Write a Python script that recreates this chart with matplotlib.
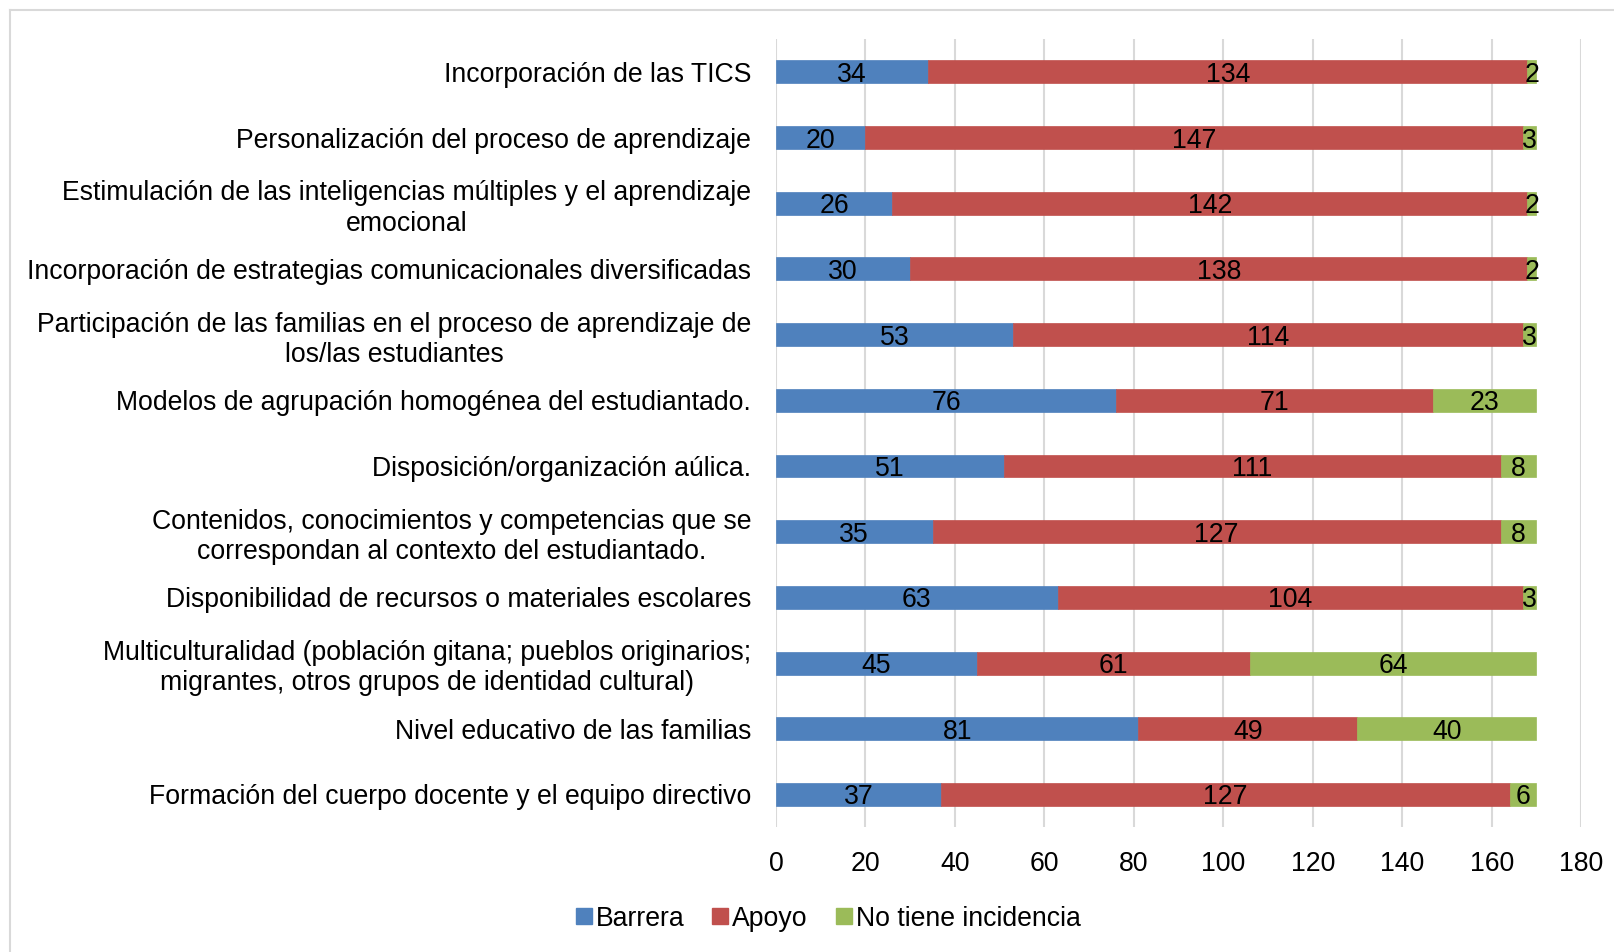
import matplotlib
matplotlib.use("Agg")
import matplotlib.pyplot as plt
from matplotlib.lines import Line2D
import numpy as np

plt.rcParams['font.family'] = ['Liberation Sans', 'DejaVu Sans']

categories = [
    "Incorporación de las TICS",
    "Personalización del proceso de aprendizaje",
    "Estimulación de las inteligencias múltiples y el aprendizaje\nemocional",
    "Incorporación de estrategias comunicacionales diversificadas",
    "Participación de las familias en el proceso de aprendizaje de\nlos/las estudiantes",
    "Modelos de agrupación homogénea del estudiantado.",
    "Disposición/organización aúlica.",
    "Contenidos, conocimientos y competencias que se\ncorrespondan al contexto del estudiantado.",
    "Disponibilidad de recursos o materiales escolares",
    "Multiculturalidad (población gitana; pueblos originarios;\nmigrantes, otros grupos de identidad cultural)",
    "Nivel educativo de las familias",
    "Formación del cuerpo docente y el equipo directivo",
]
barrera = [34, 20, 26, 30, 53, 76, 51, 35, 63, 45, 81, 37]
apoyo = [134, 147, 142, 138, 114, 71, 111, 127, 104, 61, 49, 127]
no_incidencia = [2, 3, 2, 2, 3, 23, 8, 8, 3, 64, 40, 6]
series_names = ["Barrera", "Apoyo", "No tiene incidencia"]
colors = ["#4F81BD", "#C0504D", "#9BBB59"]
xticks = [0, 20, 40, 60, 80, 100, 120, 140, 160, 180]

FS = 19.2

fig = plt.figure(figsize=(16.15, 9.52), dpi=100)
ax = fig.add_axes([0.4805, 0.131, 0.979 - 0.4805, 0.959 - 0.131])

y = np.arange(len(categories))
left = np.zeros(len(categories))
for vals, name, col in zip([barrera, apoyo, no_incidencia], series_names, colors):
    vals = np.array(vals, dtype=float)
    ax.barh(y, vals, left=left, height=0.35, color=col, label=name,
            edgecolor=col, linewidth=0.5, zorder=3)
    for yi, l, v in zip(y, left, vals):
        ax.text(l + v / 2, yi, f"{int(v)}", ha="center", va="center_baseline",
                fontsize=FS, color="black", zorder=4)
    left += vals

ax.set_xlim(0, 180)
ax.set_ylim(len(categories) - 0.5, -0.5)
ax.set_xticks(xticks)
ax.set_xticklabels([str(t) for t in xticks], fontsize=FS)
ax.set_yticks(y)
ax.set_yticklabels(categories, fontsize=FS, multialignment="center",
                   linespacing=1.22)
ax.tick_params(axis="both", length=0)
ax.tick_params(axis="y", pad=18)
ax.tick_params(axis="x", pad=17)
ax.grid(axis="x", color="#D9D9D9", linewidth=1.5, zorder=0)
for s in ax.spines.values():
    s.set_visible(False)

handles = [Line2D([0], [0], marker="s", linestyle="none", markersize=11,
                  markerfacecolor=c, markeredgecolor=c) for c in colors]
fig.legend(handles, series_names, loc="center", bbox_to_anchor=(0.512, 0.035),
           ncol=3, frameon=False, fontsize=FS, handletextpad=0.05,
           columnspacing=0.95, handlelength=0.8)

# light chart-area border on the left and top
fig.add_artist(Line2D([10 / 1615, 10 / 1615], [0, 1 - 10 / 952],
                      transform=fig.transFigure, color="#D9D9D9", linewidth=1.5))
fig.add_artist(Line2D([10 / 1615, 1], [1 - 10 / 952, 1 - 10 / 952],
                      transform=fig.transFigure, color="#D9D9D9", linewidth=1.5))

fig.savefig("out.png", dpi=100)
